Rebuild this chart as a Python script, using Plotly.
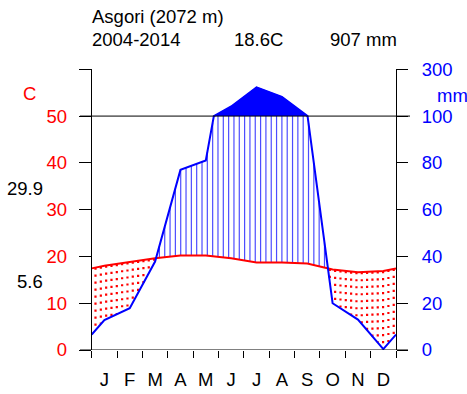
import numpy as np
import plotly.graph_objects as go

# Monthly climate normals, Asgori station
MONTHS = ["J", "F", "M", "A", "M", "J", "J", "A", "S", "O", "N", "D"]
TEMP_C = [18.0, 18.8, 19.6, 20.2, 20.2, 19.6, 18.7, 18.7, 18.5, 17.2, 16.6, 16.9]
PRECIP_MM = [12.8, 17.9, 37.8, 77.0, 81.0, 141.0, 223.0, 182.0, 101.0, 20.0, 13.0, 0.4]

STATION = "Asgori (2072 m)"
PERIOD = "2004-2014"
MEAN_TEMP = "18.6C"
TOTAL_PREC = "907 mm"
ABS_MAX = "29.9"
ABS_MIN = "5.6"

TEMP_TICKS = [0, 10, 20, 30, 40, 50, 60]
TEMP_LABELS = ["0", "10", "20", "30", "40", "50", ""]
PREC_LABELS = ["0", "20", "40", "60", "80", "100", "300"]

W, H = 467, 394
FONT = "Liberation Sans, Arial, sans-serif"
FS = 18.5
RED = "#ff0000"
BLUE = "#0000ff"


def prec_scale(p):
    """Walter-Lieth scale: 2 mm per degree up to 100 mm, 20 mm per degree above."""
    return p / 2.0 if p <= 100 else 50.0 + (p - 100.0) / 20.0


# cyclic extension so the curves reach both month-axis edges
xe = np.array([-0.5] + [i + 0.5 for i in range(12)] + [12.5])
te = np.array([TEMP_C[-1]] + TEMP_C + [TEMP_C[0]])
pe = np.array([PRECIP_MM[-1]] + PRECIP_MM + [PRECIP_MM[0]])
pu = pe / 2.0  # unscaled precipitation in degree units

# displayed precipitation curve (compressed above 100 mm)
pts = []
for i in range(len(xe)):
    if i > 0:
        a, b = pu[i - 1], pu[i]
        if (a - 50) * (b - 50) < 0:
            xc = xe[i - 1] + (50 - a) / (b - a) * (xe[i] - xe[i - 1])
            pts.append((xc, 50.0))
    pts.append((xe[i], prec_scale(pe[i])))
px_all = np.array([p[0] for p in pts])
py_all = np.array([p[1] for p in pts])
inside = (px_all > 0) & (px_all < 12)
prec_x = [0.0] + list(px_all[inside]) + [12.0]
prec_y = [float(np.interp(0, px_all, py_all))] + list(py_all[inside]) + [float(np.interp(12, px_all, py_all))]

temp_x = [0.0] + [i + 0.5 for i in range(12)] + [12.0]
temp_y = [float(np.interp(0, xe, te))] + TEMP_C + [float(np.interp(12, xe, te))]

# surplus above 100 mm
top_x, top_y = [], []
for x, y in zip(prec_x, prec_y):
    if y >= 50:
        top_x.append(x)
        top_y.append(y)

# vertical hatching: humid (blue) and dry (red dotted)
hx, hy, dx, dy = [], [], [], []
for k in range(57):
    x = 0.15 + 0.21 * k
    t = float(np.interp(x, xe, te))
    p = float(np.interp(x, xe, pu))
    if p > t:
        hx += [x, x, None]
        hy += [t, min(p, 50.0), None]
    elif t > p:
        dx += [x, x, None]
        dy += [t, p, None]

fig = go.Figure()
fig.add_trace(go.Scatter(x=hx, y=hy, mode="lines", line=dict(color="rgba(0,0,255,0.7)", width=1.2),
                         connectgaps=False, hoverinfo="skip"))
fig.add_trace(go.Scatter(x=dx, y=dy, mode="lines", line=dict(color=RED, width=2.2, dash="2.2px,4.8px"),
                         connectgaps=False, hoverinfo="skip"))
fig.add_trace(go.Scatter(x=top_x, y=top_y, mode="lines", fill="toself", fillcolor=BLUE,
                         line=dict(color=BLUE, width=1), hoverinfo="skip"))
fig.add_trace(go.Scatter(x=temp_x, y=temp_y, mode="lines", line=dict(color=RED, width=2)))
fig.add_trace(go.Scatter(x=prec_x, y=prec_y, mode="lines", line=dict(color=BLUE, width=2)))
# invisible trace that carries the precipitation (right) axis
fig.add_trace(go.Scatter(x=[0], y=[0], yaxis="y2", mode="markers",
                         marker=dict(opacity=0), hoverinfo="skip"))

x0, x1 = 91.7 / W, 396.0 / W
y0, y1 = (H - 350.0) / H, (H - 69.3) / H

fig.update_layout(
    width=W, height=H, margin=dict(l=0, r=0, t=0, b=0),
    paper_bgcolor="white", plot_bgcolor="white", showlegend=False,
    font=dict(family=FONT, size=FS, color="black"),
    xaxis=dict(domain=[x0, x1], range=[0, 12], showgrid=False, zeroline=False, showline=False,
               automargin=False,
               tickvals=[i + 0.5 for i in range(12)], ticktext=MONTHS, ticks="",
               ticklabelstandoff=16, tickfont=dict(color="black", size=FS),
               minor=dict(tickmode="array", tickvals=list(range(13)), ticks="outside",
                          ticklen=7, tickcolor="black", tickwidth=1, showgrid=False)),
    yaxis=dict(domain=[y0, y1], range=[0, 60], showgrid=False, zeroline=False, automargin=False,
               showline=True, linecolor="black", linewidth=1,
               tickvals=TEMP_TICKS, ticktext=TEMP_LABELS, ticks="outside", ticklen=12,
               tickcolor="black", tickfont=dict(color=RED, size=FS), ticklabelstandoff=8),
    yaxis2=dict(domain=[y0, y1], range=[0, 60], overlaying="y", side="right", anchor="x",
                automargin=False,
                showgrid=False, zeroline=False, showline=True, linecolor="black", linewidth=1,
                tickvals=TEMP_TICKS, ticktext=PREC_LABELS, ticks="outside", ticklen=11,
                tickcolor="black", tickfont=dict(color=BLUE, size=FS), ticklabelstandoff=10),
)

# 100 mm reference line and bottom axis line
fig.add_shape(type="line", xref="paper", yref="y", x0=80 / W, x1=410 / W, y0=50, y1=50,
              line=dict(color="black", width=1))
fig.add_shape(type="line", xref="paper", yref="y", x0=80 / W, x1=408 / W, y0=0, y1=0,
              line=dict(color="black", width=1))


def note(text, xpx, ypx, xanchor="left", color="black"):
    fig.add_annotation(text=text, xref="paper", yref="paper", x=xpx / W, y=1 - ypx / H,
                       xanchor=xanchor, yanchor="middle", showarrow=False,
                       font=dict(family=FONT, size=FS, color=color))


note(STATION, 90, 16)
note(PERIOD, 90, 39.5)
note(MEAN_TEMP, 231.7, 39.5)
note(TOTAL_PREC, 328.3, 39.5)
note("C", 29, 93.3, xanchor="center", color=RED)
note(ABS_MAX, 45, 188.3, xanchor="right")
note(ABS_MIN, 45, 281.7, xanchor="right")
note("mm", 435, 95, color=BLUE)

fig.write_html("out.html")
